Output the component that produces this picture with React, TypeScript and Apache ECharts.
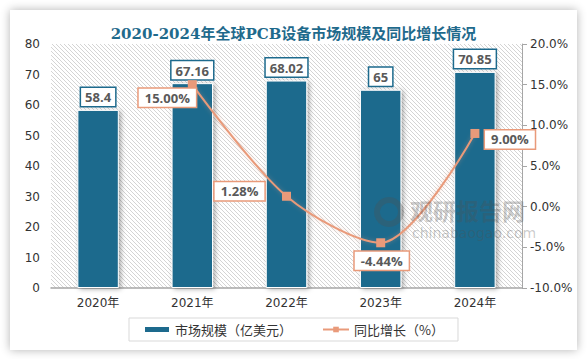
import React, { useEffect, useRef } from "react";
import * as echarts from "echarts";

const title = "2020-2024年全球PCB设备市场规模及同比增长情况";
const categories = ["2020年", "2021年", "2022年", "2023年", "2024年"];
const marketSize = [58.4, 67.16, 68.02, 65, 70.85];
const growth: (number | null)[] = [null, 15.0, 1.28, -4.44, 9.0];
const growthLabelOffsets: [number, number][] = [[0, 0], [-25, 13], [-47, -5], [1, 18], [35, 6]];
const barName = "市场规模（亿美元）";
const lineName = "同比增长（%）";

const BAR = "#1d6a8d";
const LINE = "#e99a7a";

function hatchURL(): string {
  const c = document.createElement("canvas");
  c.width = 4;
  c.height = 4;
  const ctx = c.getContext("2d")!;
  ctx.fillStyle = "#ffffff";
  ctx.fillRect(0, 0, 4, 4);
  ctx.fillStyle = "#d4d4d4";
  for (let i = 0; i < 4; i++) ctx.fillRect(i, i, 1, 1);
  return c.toDataURL();
}

export default function App() {
  const ref = useRef<HTMLDivElement>(null);
  useEffect(() => {
    const chart = echarts.init(ref.current!, null, { renderer: "svg" });
    const pattern = hatchURL();
    const gl = 51, gt = 44, gr = 522, gb = 288;
    const wm = "rgba(80,80,80,0.3)";
    chart.setOption({
      animation: false,
      title: {
        text: title,
        left: "center",
        top: 21,
        textStyle: {
          fontFamily: "'DejaVu Serif', 'Noto Sans CJK SC', serif",
          fontWeight: "bold",
          fontSize: 15,
          color: "#1f6a8c",
        },
      },
      graphic: [
        {
          type: "rect",
          z: -10,
          silent: true,
          shape: { x: gl, y: gt, width: gr - gl, height: gb - gt },
          style: { fill: { image: pattern, repeat: "repeat" } as any },
        },
        {
          type: "ring",
          z: 100,
          zlevel: 1,
          silent: true,
          shape: { cx: 389, cy: 212, r: 15, r0: 9 },
          style: { fill: wm },
        },
        {
          type: "text",
          z: 100,
          zlevel: 1,
          silent: true,
          x: 410,
          y: 198,
          style: {
            text: "观研报告网",
            font: "bold 23px 'Noto Sans CJK SC'",
            fill: wm,
          },
        },
        {
          type: "text",
          z: 100,
          zlevel: 1,
          silent: true,
          x: 412,
          y: 226,
          style: {
            text: "chinabaogao.com",
            font: "14px 'DejaVu Sans'",
            fill: wm,
          },
        },
      ],
      legend: {
        left: "center",
        top: 318,
        padding: [5, 14, 5, 14],
        borderColor: "#d9d9d9",
        borderWidth: 1,
        itemGap: 30,
        itemWidth: 26,
        itemHeight: 7,
        textStyle: { fontSize: 13, color: "#333", fontFamily: "'Noto Sans CJK SC', sans-serif" },
        data: [
          { name: barName, icon: "rect" },
          { name: lineName },
        ],
      },
      grid: { left: gl, right: 587 - gr, top: gt, bottom: 359 - gb },
      xAxis: {
        type: "category",
        data: categories,
        axisLine: { lineStyle: { color: "#a6a6a6", width: 1.5 } },
        axisTick: { show: false },
        axisLabel: { color: "#333", fontSize: 12, margin: 9, fontFamily: "'DejaVu Sans', 'Noto Sans CJK SC', sans-serif" },
      },
      yAxis: [
        {
          type: "value",
          min: 0,
          max: 80,
          interval: 10,
          splitLine: { show: false },
          axisLine: { show: false },
          axisTick: { show: false },
          axisLabel: { color: "#333", fontSize: 12, margin: 11, fontFamily: "'DejaVu Sans', sans-serif" },
        },
        {
          type: "value",
          min: -10,
          max: 20,
          interval: 5,
          position: "right",
          splitLine: { show: false },
          axisLine: { show: true, lineStyle: { color: "#a6a6a6" } },
          axisTick: { show: true, length: 5, lineStyle: { color: "#a6a6a6" } },
          axisLabel: {
            color: "#333",
            fontSize: 12,
            margin: 8,
            fontFamily: "'DejaVu Sans', sans-serif",
            formatter: (v: number) => v.toFixed(1) + "%",
          },
        },
      ],
      series: [
        {
          name: barName,
          type: "bar",
          data: marketSize,
          barWidth: "44%",
          itemStyle: {
            color: BAR,
            borderColor: "#ffffff",
            borderWidth: 1,
            shadowBlur: 5,
            shadowColor: "rgba(0,0,0,0.35)",
            shadowOffsetX: 2,
            shadowOffsetY: 1,
          },
          label: {
            show: true,
            position: "top",
            distance: 4,
            backgroundColor: "#fff",
            borderColor: BAR,
            borderWidth: 1.5,
            padding: [3, 4, 2, 4],
            color: "#595959",
            fontWeight: "bold",
            fontSize: 13,
            fontFamily: "'Open Sans', sans-serif",
          },
        },
        {
          name: lineName,
          type: "line",
          yAxisIndex: 1,
          smooth: 0.3,
          data: growth.map((v, i) => ({
            value: v,
            label: {
              show: v !== null,
              position: "inside",
              offset: growthLabelOffsets[i],
            },
          })),
          symbol: "rect",
          symbolSize: 9,
          z: 5,
          lineStyle: { color: LINE, width: 2, shadowBlur: 4, shadowColor: "rgba(233,154,122,0.4)" },
          itemStyle: { color: LINE },
          label: {
            show: true,
            formatter: (p: any) => (p.value == null ? "" : p.value.toFixed(2) + "%"),
            backgroundColor: "#fff",
            borderColor: LINE,
            borderWidth: 1.5,
            padding: [3, 6, 2, 6],
            color: "#595959",
            fontWeight: "bold",
            fontSize: 13,
            fontFamily: "'Open Sans', sans-serif",
          },
        },
      ],
    });
    return () => chart.dispose();
  }, []);
  return (
    <div style={{ position: "absolute", left: 0, top: 0, width: 587, height: 359, background: "#fff", overflow: "hidden" }}>
      <div
        style={{
          position: "absolute",
          left: 10,
          top: 10,
          width: 567,
          height: 340,
          background: "#fff",
          boxShadow: "0 0 9px rgba(0,0,0,0.3)",
        }}
      />
      <div ref={ref} style={{ position: "absolute", left: 0, top: 0, width: 587, height: 359 }} />
    </div>
  );
}
